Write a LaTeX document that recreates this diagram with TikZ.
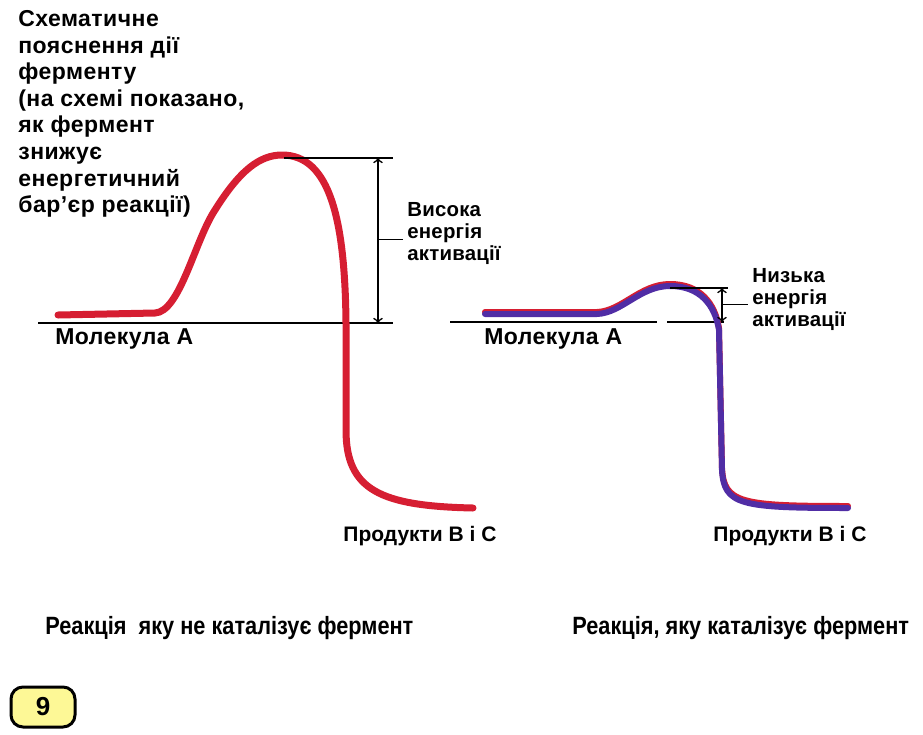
\documentclass[tikz,border=0pt]{standalone}
\usepackage{fontspec}
\setmainfont{Liberation Sans}
\newfontfamily\narrowfont[FakeStretch=0.87]{Liberation Sans}
\definecolor{curvered}{RGB}{214,30,50}
\definecolor{curveblue}{RGB}{80,45,165}
\definecolor{badge}{RGB}{253,248,150}
\tikzset{lbl/.style={font=\bfseries\fontsize{10.2}{11}\selectfont\addfontfeature{LetterSpace=1},inner sep=0pt,align=left},
  big/.style={font=\bfseries\fontsize{11.5}{13.3}\selectfont\addfontfeature{LetterSpace=2}},
  prod/.style={font=\bfseries\fontsize{10.5}{12}\selectfont},
  captxt/.style={inner sep=0pt,font=\narrowfont\bfseries\fontsize{12.5}{14}\selectfont}}
\begin{document}
\begin{tikzpicture}[x=0.5pt,y=-0.5pt]
\useasboundingbox (0,0) rectangle (923,735);
\node[lbl,big,anchor=north west](ttl) at (18,10){Схематичне\\пояснення дії\\ферменту\\(на схемі показано,\\як фермент\\знижує\\енергетичний\\бар’єр реакції)};
% uncatalysed reaction
\draw[thick] (38,323) -- (393,323);
\draw[curvered,line width=3.5pt,line cap=round] (58,315) -- (155,313) .. controls (180,312) and (195,240) .. (215,210) .. controls (240,170) and (260,155) .. (282,155) .. controls (330,155) and (345,220) .. (346,323) -- (346,430) .. controls (346,490) and (380,506) .. (473,508);
\draw[thick] (284,158) -- (393,158);
\coordinate (hitop) at (378,158);
\coordinate (hibot) at (378,323);
\coordinate (himid) at (378,239);
\draw[<->,thick] (hitop) -- (hibot);
\node[lbl,anchor=west](hightxt) at (407,234){Висока\\енергія\\активації};
\draw (himid) -- (403,239);
\node[lbl,big,anchor=west](molL) at (55,339){Молекула А};
\node[lbl,prod](prodL) at (420,536){Продукти В і С};
% catalysed reaction
\draw[thick] (450,322) -- (657,322);
\draw[thick] (667,322) -- (724,322);
\draw[curvered,line width=3pt,line cap=round,yshift=1pt] (485,314) -- (597,314) .. controls (622,313) and (640,286) .. (670,286) .. controls (700,286) and (715,305) .. (719,330) -- (722,470) .. controls (724,505) and (740,508) .. (848,508);
\draw[curveblue,line width=3pt,line cap=round] (485,314) -- (597,314) .. controls (622,313) and (640,286) .. (670,286) .. controls (700,286) and (715,305) .. (719,330) -- (722,470) .. controls (724,505) and (740,508) .. (848,508);
\draw[thick] (670,288) -- (728,288);
\coordinate (lotop) at (722,288);
\coordinate (lobot) at (722,322);
\coordinate (lomid) at (722,304);
\draw[<->,thick] (lotop) -- (lobot);
\node[lbl,anchor=west](lowtxt) at (752,300){Низька\\енергія\\активації};
\draw (lomid) -- (748,304);
\node[lbl,big,anchor=west](molR) at (484,339){Молекула А};
\node[lbl,prod](prodR) at (790,536){Продукти В і С};
% captions
\node[captxt,anchor=west](capL) at (45,628){Реакція~~яку не каталізує фермент};
\node[captxt,anchor=west](capR) at (572,628){Реакція, яку каталізує фермент};
\node[draw,line width=1.5pt,fill=badge,rounded corners=6pt,minimum width=32pt,minimum height=20pt,font=\bfseries\fontsize{13}{14}\selectfont](page) at (43,707){9};
\end{tikzpicture}
\end{document}
